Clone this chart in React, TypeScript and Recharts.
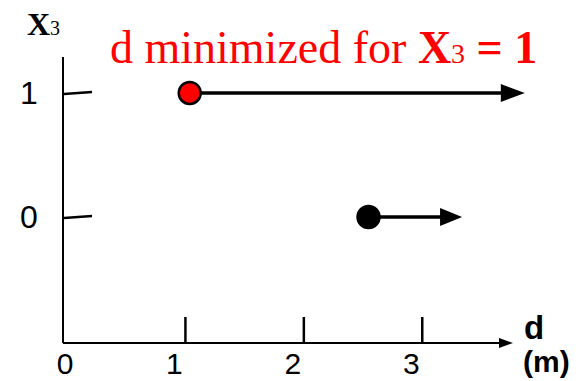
import React from 'react';
import { ComposedChart, XAxis, YAxis, Scatter, ReferenceLine } from 'recharts';

// x3 levels on the vertical axis
const yTicks = [0, 1];
// distance ticks (m)
const xTicks = [0, 1, 2, 3];

// starting points of d for each x3 level
const redPoint = [{ d: 1.07, x3: 1 }];
const blackPoint = [{ d: 2.58, x3: 0 }];

// where the arrows end
const redArrowEnd = 3.9;
const blackArrowEnd = 3.37;

const axisBottom = -1.016;
const axisEnd = 3.8;

const sans = { fontFamily: "'Liberation Sans', Arial, sans-serif" };
const serif = { fontFamily: "'Liberation Serif', 'Times New Roman', serif" };

const Arrow = (props: any) => {
  const { x1, y1, x2, y2, headLen = 20, headHalf = 8, width = 3 } = props;
  return (
    <g>
      <line x1={x1} y1={y1} x2={x2 - headLen + 2} y2={y2} stroke="#000" strokeWidth={width} />
      <polygon
        points={`${x2},${y2} ${x2 - headLen},${y2 - headHalf} ${x2 - headLen},${y2 + headHalf}`}
        fill="#000"
      />
    </g>
  );
};

const XTick = (props: any) => {
  const { x, y, payload } = props;
  const v = payload.value;
  return (
    <g>
      {v > 0 && <line x1={x + 4} y1={y} x2={x + 4} y2={y - 26} stroke="#000" strokeWidth={2.5} />}
      <text
        x={v > 0 ? x - 7 : x + 2}
        y={y + 31}
        textAnchor="middle"
        style={{ ...sans, fontSize: 30, fill: '#000' }}
      >
        {v}
      </text>
    </g>
  );
};

const YTick = (props: any) => {
  const { x, y, payload } = props;
  return (
    <g>
      <line x1={x + 1} y1={y + 1} x2={x + 29} y2={y - 1} stroke="#000" strokeWidth={2.5} />
      <text x={x - 34} y={y + 11} textAnchor="middle" style={{ ...sans, fontSize: 32, fill: '#000' }}>
        {payload.value}
      </text>
    </g>
  );
};

const Dot = (props: any) => {
  const { cx, cy, fill } = props;
  return <circle cx={cx} cy={cy} r={11} fill={fill} stroke="#000" strokeWidth={2.5} />;
};

const App: React.FC = () => {
  return (
    <div style={{ position: 'absolute', left: 0, top: 0, background: '#fff' }}>
      <ComposedChart width={582} height={381} margin={{ top: 57, right: 69, bottom: 0, left: 0 }}>
        <XAxis
          type="number"
          dataKey="d"
          domain={[0, axisEnd]}
          ticks={xTicks}
          axisLine={false}
          tickLine={false}
          tickSize={0}
          tickMargin={0}
          height={38}
          tick={<XTick />}
          allowDataOverflow
        />
        <YAxis
          type="number"
          dataKey="x3"
          domain={[axisBottom, 1.29]}
          ticks={yTicks}
          width={63}
          axisLine={{ stroke: '#000', strokeWidth: 2 }}
          tickLine={false}
          tickSize={0}
          tickMargin={0}
          tick={<YTick />}
          allowDataOverflow
        />
        <ReferenceLine
          segment={[{ x: 0, y: axisBottom }, { x: axisEnd, y: axisBottom }]}
          ifOverflow="visible"
          shape={(p: any) => <Arrow {...p} headLen={14} headHalf={5} width={2} />}
        />
        <ReferenceLine
          segment={[{ x: redPoint[0].d, y: 1 }, { x: redArrowEnd, y: 1 }]}
          ifOverflow="visible"
          shape={(p: any) => <Arrow {...p} headLen={24} headHalf={9} width={3.5} />}
        />
        <ReferenceLine
          segment={[{ x: blackPoint[0].d, y: 0 }, { x: blackArrowEnd, y: 0 }]}
          ifOverflow="visible"
          shape={(p: any) => <Arrow {...p} headLen={22} headHalf={9} width={3.5} />}
        />
        <Scatter data={redPoint} fill="#ff0000" shape={<Dot />} isAnimationActive={false} />
        <Scatter data={blackPoint} fill="#000" shape={<Dot />} isAnimationActive={false} />
        <text x={27} y={35} style={{ ...serif, fontSize: 32, fontWeight: 'bold', fill: '#000' }}>
          X<tspan style={{ fontSize: 20, fontWeight: 'normal' }}>3</tspan>
        </text>
        <text x={110} y={63} style={{ ...serif, fontSize: 46, fill: '#ff0000' }}>
          d minimized for <tspan style={{ fontWeight: 'bold' }}>X</tspan>
          <tspan style={{ fontSize: 28 }}>3</tspan>
          <tspan style={{ fontWeight: 'bold' }}> = 1</tspan>
        </text>
        <text x={524} y={339} style={{ ...sans, fontSize: 33, fontWeight: 'bold', fill: '#000' }}>
          d
        </text>
        <text x={523} y={372} style={{ ...sans, fontSize: 30, fontWeight: 'bold', fill: '#000' }}>
          (m)
        </text>
      </ComposedChart>
    </div>
  );
};

export default App;
